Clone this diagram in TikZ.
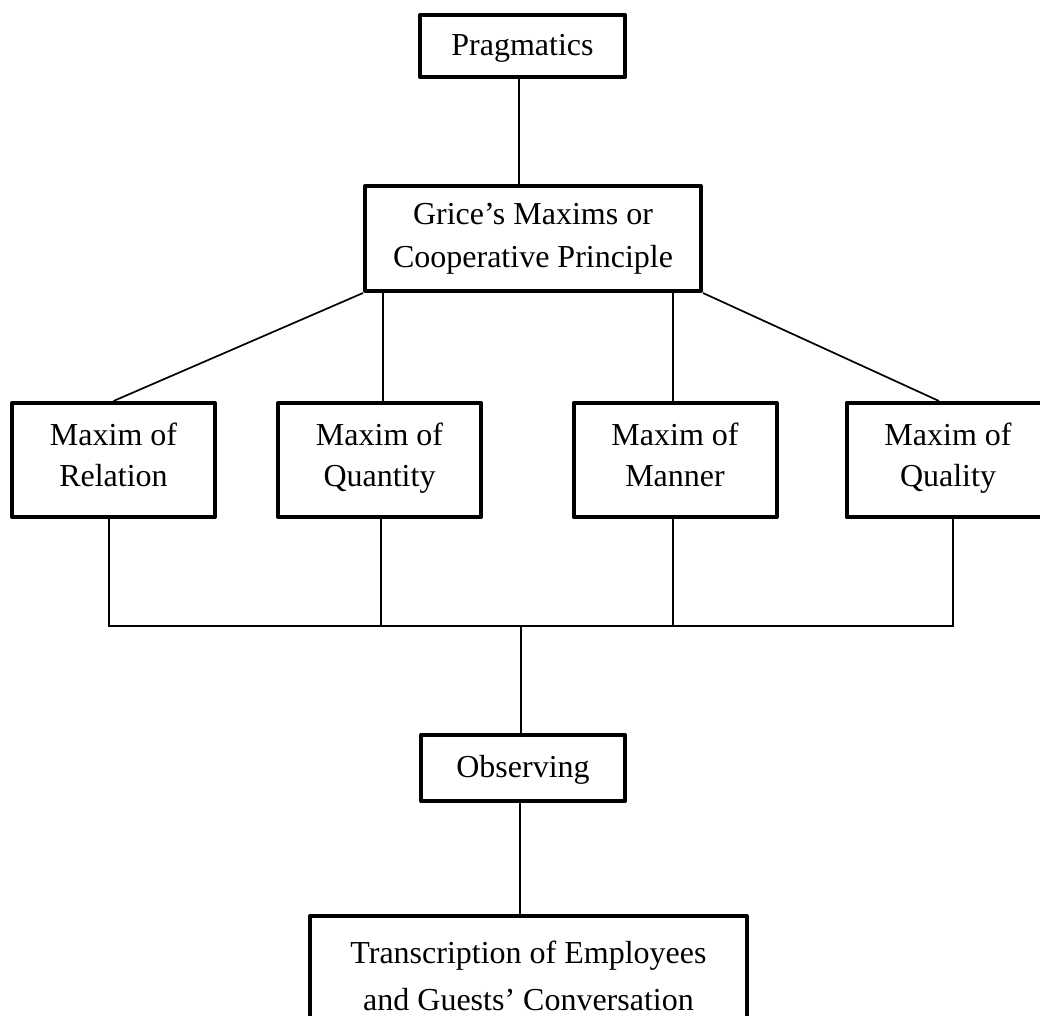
\documentclass[tikz,border=0pt]{standalone}
\usepackage{fontspec}
\setmainfont{Liberation Serif}
\begin{document}
\begin{tikzpicture}[x=1pt,y=-1pt,
  box/.style={draw,line width=4pt,line join=round,rectangle,align=center,inner sep=0pt,
    font=\fontsize{32}{43}\selectfont},
  vs/.style 2 args={execute at begin node={\rule{0pt}{#1pt}},
    execute at end node={\rule[-#2pt]{0pt}{#2pt}}},
  mbox/.style={box,minimum width=203pt,minimum height=114pt,
    font=\fontsize{32}{41}\selectfont,vs={27}{10}},
  conn/.style={line width=1.7pt}]
\useasboundingbox (0,0) rectangle (1040,1015);
\clip (0,0) rectangle (1040,1015);
% nodes
\node[box,vs={26}{8},minimum width=205pt,minimum height=62pt] (prag) at (522.5,46) {Pragmatics};
\node[box,vs={34}{4},minimum width=336pt,minimum height=105pt] (grice) at (533,238.5) {Grice’s Maxims or\\Cooperative Principle};
\node[mbox] (rel) at (113.5,460) {Maxim of\\Relation};
\node[mbox] (qty) at (379.5,460) {Maxim of\\Quantity};
\node[mbox] (man) at (675,460) {Maxim of\\Manner};
\node[mbox] (qual) at (948,460) {Maxim of\\Quality};
\node[box,vs={26}{8},minimum width=204pt,minimum height=66pt] (obs) at (523,768) {Observing};
\node[box,font=\fontsize{32}{47}\selectfont,vs={26}{8},minimum width=437pt,minimum height=127pt] (trans) at (528.5,979.5) {Transcription of Employees\\and Guests’ Conversation};
\coordinate (bus) at (521,626);
% connectors
\draw[conn] ([xshift=-3.5pt]prag.south) -- ([xshift=-3.5pt]prag.south |- grice.north);
\draw[conn] (grice.south west) -- (rel.north);
\draw[conn] (grice.south east) -- ([xshift=-9pt]qual.north);
\draw[conn] ([xshift=3.5pt]qty.north) -- ([xshift=3.5pt]qty.north |- grice.south);
\draw[conn] ([xshift=-2pt]man.north) -- ([xshift=-2pt]man.north |- grice.south);
\draw[conn] ([xshift=-4.5pt]rel.south) |- ([xshift=5pt]qual.south |- bus) -- ([xshift=5pt]qual.south);
\draw[conn] ([xshift=1.5pt]qty.south) -- ([xshift=1.5pt]qty.south |- bus);
\draw[conn] ([xshift=-2pt]man.south) -- ([xshift=-2pt]man.south |- bus);
\draw[conn] (bus) -- (bus |- obs.north);
\draw[conn] ([xshift=-3pt]obs.south) -- ([xshift=-3pt]obs.south |- trans.north);
\end{tikzpicture}
\end{document}
